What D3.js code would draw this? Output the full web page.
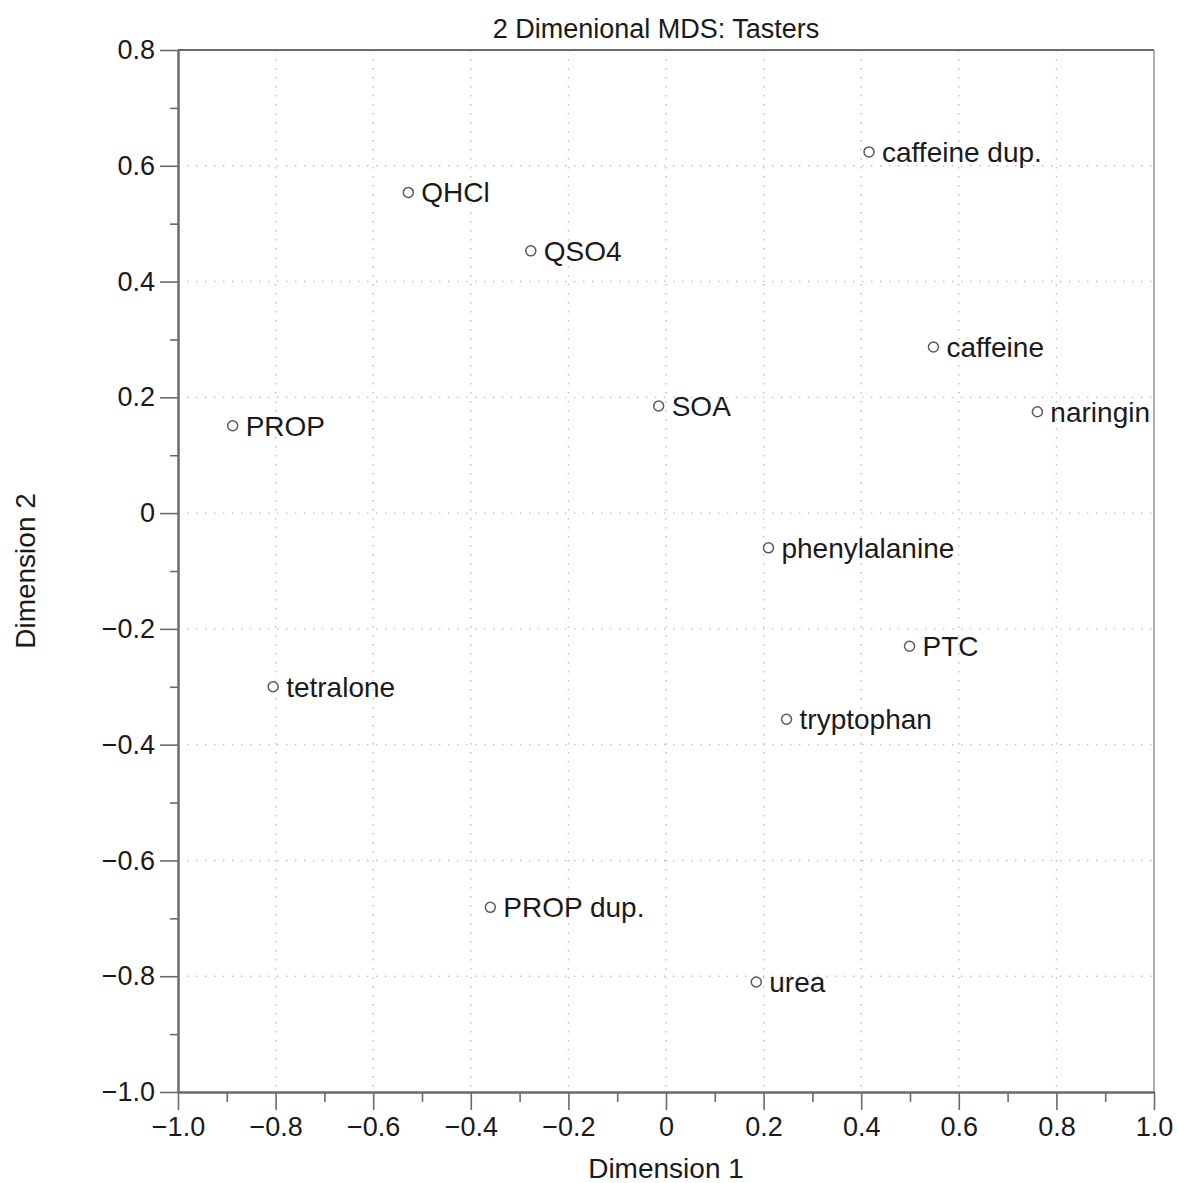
<!DOCTYPE html>
<html>
<head>
<meta charset="utf-8">
<script src="https://cdn.jsdelivr.net/npm/d3@7"></script>
<style>
  html, body { margin: 0; padding: 0; background: #fff; }
  svg { display: block; }
  text { font-family: "Liberation Sans", Arial, Helvetica, sans-serif; fill: #1a1a1a; }
</style>
</head>
<body>
<svg id="chart" width="1178" height="1183"></svg>
<script>
// Stimulus names and their 2-D MDS coordinates
const stimuli = ["caffeine dup.", "QHCl", "QSO4", "caffeine", "SOA", "naringin", "PROP",
                 "phenylalanine", "PTC", "tetralone", "tryptophan", "PROP dup.", "urea"];
const dim1 = [0.416, -0.528, -0.277, 0.548, -0.015, 0.761, -0.888,
              0.210, 0.499, -0.805, 0.247, -0.360, 0.185];
const dim2 = [0.624, 0.554, 0.453, 0.287, 0.185, 0.175, 0.151,
              -0.060, -0.230, -0.300, -0.356, -0.681, -0.810];

// Axis ticks and their labels
const xTickValues = [-1.0, -0.8, -0.6, -0.4, -0.2, 0, 0.2, 0.4, 0.6, 0.8, 1.0];
const xTickLabels = ["\u22121.0", "\u22120.8", "\u22120.6", "\u22120.4", "\u22120.2", "0", "0.2", "0.4", "0.6", "0.8", "1.0"];
const xMinorTicks = [-0.9, -0.7, -0.5, -0.3, -0.1, 0.1, 0.3, 0.5, 0.7, 0.9];
const yTickValues = [0.8, 0.6, 0.4, 0.2, 0, -0.2, -0.4, -0.6, -0.8, -1.0];
const yTickLabels = ["0.8", "0.6", "0.4", "0.2", "0", "\u22120.2", "\u22120.4", "\u22120.6", "\u22120.8", "\u22121.0"];
const yMinorTicks = [0.7, 0.5, 0.3, 0.1, -0.1, -0.3, -0.5, -0.7, -0.9];

const titleText = "2 Dimenional MDS: Tasters";
const xTitle = "Dimension 1";
const yTitle = "Dimension 2";

const W = 1178, H = 1183;
const margin = { top: 50, right: 24, bottom: 91, left: 178 };
const iw = W - margin.left - margin.right;
const ih = H - margin.top - margin.bottom;

const svg = d3.select("#chart");
const g = svg.append("g").attr("transform", `translate(${margin.left},${margin.top})`);

const x = d3.scaleLinear().domain([-1.0, 1.0]).range([0, iw]);
const y = d3.scaleLinear().domain([-1.0, 0.8]).range([ih, 0]);

// dotted grid at interior major ticks
const grid = g.append("g").attr("class", "grid")
  .attr("stroke", "#bdbdbd").attr("stroke-width", 1.4).attr("stroke-dasharray", "1.4,7.6");
grid.selectAll("line.v")
  .data(xTickValues.filter(v => v > -1 && v < 1))
  .join("line").attr("class", "v")
  .attr("x1", d => x(d)).attr("x2", d => x(d))
  .attr("y1", 0).attr("y2", ih);
grid.selectAll("line.h")
  .data(yTickValues.filter(v => v > -1 && v < 0.8))
  .join("line").attr("class", "h")
  .attr("x1", 0).attr("x2", iw)
  .attr("y1", d => y(d)).attr("y2", d => y(d));

// frame: top and right edges
g.append("line").attr("x1", 0).attr("x2", iw).attr("y1", 0).attr("y2", 0)
  .attr("stroke", "#6b6b6b").attr("stroke-width", 2);
g.append("line").attr("x1", iw).attr("x2", iw).attr("y1", 0).attr("y2", ih)
  .attr("stroke", "#9a9a9a").attr("stroke-width", 1.6);

// bottom axis
const xAxis = d3.axisBottom(x).tickValues(xTickValues)
  .tickFormat((d, i) => xTickLabels[i]).tickSizeInner(18).tickSizeOuter(0).tickPadding(7);
const xMinor = d3.axisBottom(x).tickValues(xMinorTicks)
  .tickFormat("").tickSizeInner(10).tickSizeOuter(0);
const gx = g.append("g").attr("transform", `translate(0,${ih})`).call(xAxis);
const gxm = g.append("g").attr("transform", `translate(0,${ih})`).call(xMinor);

// left axis
const yAxis = d3.axisLeft(y).tickValues(yTickValues)
  .tickFormat((d, i) => yTickLabels[i]).tickSizeInner(18).tickSizeOuter(0).tickPadding(5);
const yMinor = d3.axisLeft(y).tickValues(yMinorTicks)
  .tickFormat("").tickSizeInner(8).tickSizeOuter(0);
const gy = g.append("g").call(yAxis);
const gym = g.append("g").call(yMinor);

[gx, gxm, gy, gym].forEach(a => {
  a.select(".domain").attr("stroke", "#6b6b6b").attr("stroke-width", 2);
  a.selectAll(".tick line").attr("stroke", "#6b6b6b").attr("stroke-width", 1.6);
  a.selectAll(".tick text")
    .attr("font-family", "'Liberation Sans', Arial, sans-serif")
    .attr("font-size", 27).attr("fill", "#1a1a1a");
});

// points and labels
const pts = g.append("g").selectAll("g.pt")
  .data(stimuli.map((name, i) => ({ name, d1: dim1[i], d2: dim2[i] })))
  .join("g").attr("class", "pt")
  .attr("transform", d => `translate(${x(d.d1)},${y(d.d2)})`);
pts.append("circle").attr("r", 5)
  .attr("fill", "#fff").attr("stroke", "#5a5a5a").attr("stroke-width", 1.5);
pts.append("text").attr("x", 13).attr("dy", "0.35em")
  .attr("font-size", 28).text(d => d.name);

// titles
svg.append("text").attr("x", margin.left + iw / 2 - 10).attr("y", 38)
  .attr("text-anchor", "middle").attr("font-size", 27).text(titleText);
svg.append("text").attr("x", margin.left + iw / 2).attr("y", 1178)
  .attr("text-anchor", "middle").attr("font-size", 28).text(xTitle);
svg.append("text")
  .attr("transform", `translate(35,${margin.top + ih / 2}) rotate(-90)`)
  .attr("text-anchor", "middle").attr("font-size", 28).text(yTitle);
</script>
</body>
</html>
